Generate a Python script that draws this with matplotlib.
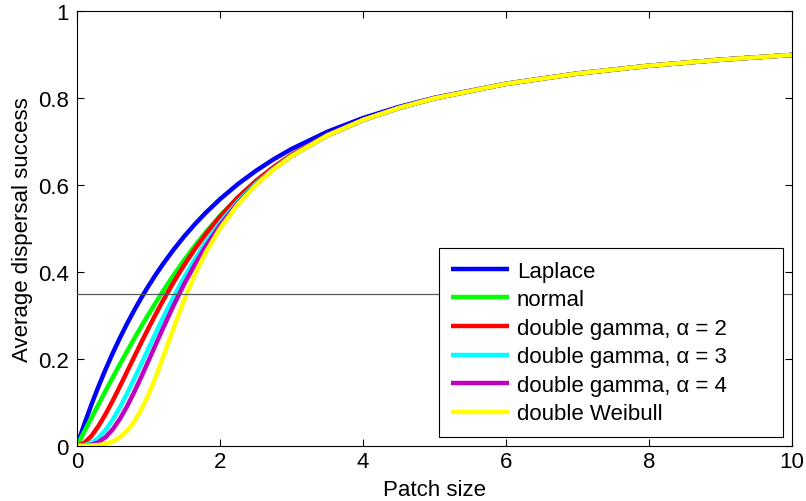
import matplotlib
matplotlib.use("Agg")
import matplotlib.pyplot as plt
from matplotlib.ticker import FormatStrFormatter

plt.rcParams['font.family'] = ['Liberation Sans', 'DejaVu Sans']

# patch sizes and average dispersal success for each kernel
patch = [0.0, 0.1, 0.2, 0.3, 0.4, 0.5, 0.6, 0.7, 0.8, 0.9, 1.0, 1.1, 1.2, 1.35, 1.5,
         1.65, 1.8, 2.0, 2.25, 2.5, 2.75, 3.0, 3.5, 4.0, 4.5, 5.0, 6.0, 7.0, 8.0, 9.0, 10.0]

laplace = [0.0, 0.0484, 0.0937, 0.1361, 0.1758, 0.2131, 0.2480, 0.2808, 0.3117, 0.3406,
           0.3679, 0.3935, 0.4177, 0.4513, 0.4821, 0.5103, 0.5363, 0.5677, 0.6024, 0.6328,
           0.6596, 0.6833, 0.7229, 0.7546, 0.7802, 0.8013, 0.8337, 0.8573, 0.8750, 0.8889, 0.9000]
normal = [0.0, 0.0318, 0.0635, 0.0950, 0.1263, 0.1571, 0.1874, 0.2172, 0.2463, 0.2748,
          0.3024, 0.3293, 0.3553, 0.3925, 0.4277, 0.4607, 0.4916, 0.5294, 0.5717, 0.6086,
          0.6409, 0.6690, 0.7148, 0.7501, 0.7778, 0.8000, 0.8333, 0.8571, 0.8750, 0.8889, 0.9000]
gamma2 = [0.0, 0.0060, 0.0219, 0.0449, 0.0727, 0.1036, 0.1365, 0.1703, 0.2043, 0.2379,
          0.2707, 0.3024, 0.3330, 0.3762, 0.4163, 0.4532, 0.4869, 0.5275, 0.5716, 0.6094,
          0.6419, 0.6700, 0.7155, 0.7504, 0.7779, 0.8001, 0.8333, 0.8571, 0.8750, 0.8889, 0.9000]
gamma3 = [0.0, 0.0009, 0.0063, 0.0180, 0.0361, 0.0599, 0.0882, 0.1199, 0.1537, 0.1887,
          0.2240, 0.2591, 0.2933, 0.3423, 0.3880, 0.4299, 0.4682, 0.5136, 0.5624, 0.6034,
          0.6381, 0.6675, 0.7145, 0.7501, 0.7778, 0.8000, 0.8333, 0.8571, 0.8750, 0.8889, 0.9000]
gamma4 = [0.0, 0.0002, 0.0020, 0.0079, 0.0196, 0.0376, 0.0615, 0.0905, 0.1232, 0.1586,
          0.1954, 0.2325, 0.2693, 0.3225, 0.3722, 0.4177, 0.4589, 0.5074, 0.5588, 0.6014,
          0.6369, 0.6669, 0.7143, 0.7500, 0.7778, 0.8000, 0.8333, 0.8571, 0.8750, 0.8889, 0.9000]
weibull = [0.0, 0.0000, 0.0003, 0.0014, 0.0042, 0.0097, 0.0193, 0.0341, 0.0552, 0.0831,
           0.1176, 0.1577, 0.2018, 0.2704, 0.3361, 0.3944, 0.4445, 0.5000, 0.5556, 0.6000,
           0.6364, 0.6667, 0.7143, 0.7500, 0.7778, 0.8000, 0.8333, 0.8571, 0.8750, 0.8889, 0.9000]

labels = ['Laplace', 'normal', 'double gamma, \u03b1 = 2', 'double gamma, \u03b1 = 3',
          'double gamma, \u03b1 = 4', 'double Weibull']
colors = ['#0000ff', '#00ff00', '#ff0000', '#00ffff', '#bf00bf', '#ffff00']
threshold = 0.35

fs = 16

fig = plt.figure(figsize=(8.06, 5.02), dpi=100)
ax = fig.add_axes([0.0955, 0.1102, 0.8871, 0.8649])

for y, lab, c in zip([laplace, normal, gamma2, gamma3, gamma4, weibull], labels, colors):
    ax.plot(patch, y, color=c, lw=3.2, label=lab, solid_capstyle='butt')

ax.axhline(threshold, color='0.35', lw=0.9, zorder=5)

ax.set_xlim(0, 10)
ax.set_ylim(0, 1)
ax.set_xticks([0, 2, 4, 6, 8, 10])
ax.set_yticks([0, 0.2, 0.4, 0.6, 0.8, 1])
ax.yaxis.set_major_formatter(FormatStrFormatter('%g'))
ax.tick_params(direction='in', length=5, width=0.8, labelsize=fs, top=True, right=True)
ax.tick_params(axis='x', pad=4)
ax.tick_params(axis='y', pad=6)
for s in ax.spines.values():
    s.set_linewidth(0.8)

ax.set_xlabel('Patch size', fontsize=fs, labelpad=5)
ax.set_ylabel('Average dispersal success', fontsize=fs, labelpad=3.5)

# wide legend box in the lower right corner, entries left-aligned inside it
leg = ax.legend(loc='lower left', bbox_to_anchor=(0.5067, 0.0207, 0.481, 0.0), mode='expand',
                fontsize=fs, frameon=True, fancybox=False, edgecolor='black', framealpha=1,
                handlelength=2.6, handletextpad=0.35, labelspacing=0.34, borderpad=0.55,
                borderaxespad=0.0)
leg.get_frame().set_linewidth(0.8)

fig.savefig('out.png', dpi=100)
